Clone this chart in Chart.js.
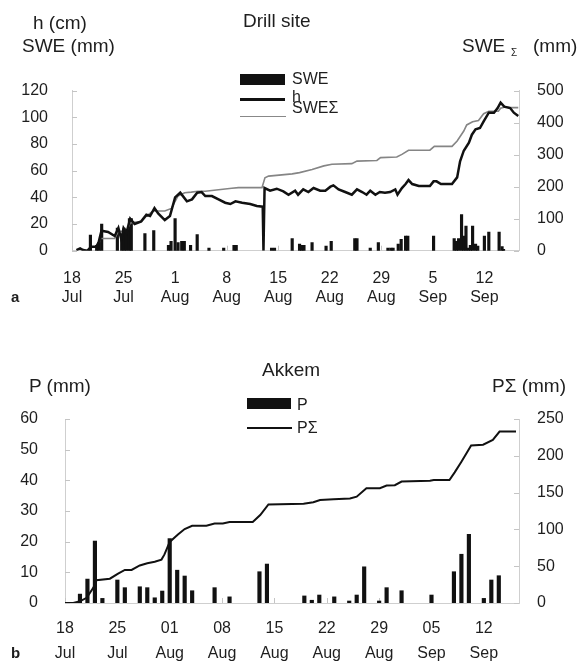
<!DOCTYPE html>
<html>
<head>
<meta charset="utf-8">
<script src="https://cdn.jsdelivr.net/npm/chart.js@4.4.0/dist/chart.umd.min.js"></script>
<style>
  body { margin: 0; background: #fff; }
  #page { position: relative; width: 580px; height: 664px; overflow: hidden;
          font-family: "Liberation Sans", Arial, sans-serif; color: #1e1e1e; }
  canvas { position: absolute; left: 0; }
  .t { position: absolute; font-size: 19px; line-height: 1; white-space: nowrap; }
  .lg { position: absolute; font-size: 16px; line-height: 1; white-space: nowrap; }
  .sw { position: absolute; }
</style>
</head>
<body>
<div id="page">
  <canvas id="drill" width="580" height="330" style="top:0"></canvas>
  <canvas id="akkem" width="580" height="334" style="top:330px"></canvas>

  <div class="t" style="left:33px;top:13px">h (cm)</div>
  <div class="t" style="left:22px;top:35.5px">SWE (mm)</div>
  <div class="t" style="left:243px;top:11px">Drill site</div>
  <div class="t" style="left:462px;top:35.5px">SWE</div>
  <div class="t" style="left:511px;top:48px;font-size:10px">&Sigma;</div>
  <div class="t" style="left:533px;top:35.5px">(mm)</div>
  <div class="t" style="left:11px;top:289px;font-size:15px;font-weight:bold">a</div>

  <div class="sw" style="left:240px;top:73.5px;width:45px;height:11.5px;background:#111"></div>
  <div class="lg" style="left:292px;top:70.5px">SWE</div>
  <div class="sw" style="left:240px;top:98px;width:45px;height:2.5px;background:#111"></div>
  <div class="lg" style="left:292px;top:88.5px">h</div>
  <div class="sw" style="left:240px;top:115.5px;width:46px;height:1.3px;background:#888"></div>
  <div class="lg" style="left:292px;top:99.5px">SWE&Sigma;</div>

  <div class="t" style="left:29px;top:376px">P (mm)</div>
  <div class="t" style="left:262px;top:360px">Akkem</div>
  <div class="t" style="left:492px;top:376px">P&Sigma; (mm)</div>
  <div class="t" style="left:11px;top:645px;font-size:15px;font-weight:bold">b</div>

  <div class="sw" style="left:247px;top:398px;width:44px;height:11px;background:#111"></div>
  <div class="lg" style="left:297px;top:396.5px">P</div>
  <div class="sw" style="left:247px;top:427.3px;width:45px;height:2px;background:#111"></div>
  <div class="lg" style="left:297px;top:419.5px">P&Sigma;</div>
</div>
<script>
// days counted from 18 Jul
const tickDays = [0, 7, 14, 21, 28, 35, 42, 49, 56];
const dayLabelsTop = ['18', '25', '1', '8', '15', '22', '29', '5', '12'];
const dayLabelsBottom = ['18', '25', '01', '08', '15', '22', '29', '05', '12'];
const monthLabels = ['Jul', 'Jul', 'Aug', 'Aug', 'Aug', 'Aug', 'Aug', 'Sep', 'Sep'];

// Drill site: SWE bars (mm)
const sweDays = [2.5, 3.35, 3.67, 4.03, 6.16, 6.75, 7.07, 7.4, 7.8, 8.05,
  9.9, 11.1, 13.1, 13.45, 14.0, 14.4, 14.9, 15.25, 16.1, 17.0,
  18.6, 20.6, 22.0, 22.3, 27.1, 27.5, 29.9, 30.9, 31.2, 31.5,
  32.6, 34.5, 35.2, 38.4, 38.7, 40.5, 41.6, 42.9, 43.3, 43.6,
  44.3, 44.7, 45.3, 45.6, 49.1, 51.9, 52.2, 52.5, 52.9, 53.2,
  53.5, 53.8, 54.1, 54.4, 54.8, 55.1, 56.0, 56.6, 58.0, 58.4, 58.6];
const sweValues = [11.75, 4, 6, 20, 17, 10, 17, 15, 24, 24,
  12.75, 15, 4, 7, 24, 6, 7, 7, 4, 12,
  2, 2, 4, 4, 2, 2, 9, 5, 4, 4,
  6, 3.5, 7, 9, 9, 2, 6, 2, 2, 2,
  5, 8.5, 11, 11, 11, 9, 7, 9, 27, 11,
  18.5, 2, 4, 18.5, 5, 3.5, 11, 14, 14, 3, 1];

// Drill site: snow depth h (cm)
const hDays = [0.6, 1.1, 1.5, 2.1, 2.6, 3.3, 3.6, 4.0, 4.9, 5.8,
  6.3, 6.7, 7.0, 7.4, 7.9, 8.5, 9.4, 10.1, 10.6, 11.2,
  11.7, 12.6, 13.3, 14.0, 14.7, 15.6, 16.3, 17.0, 17.6, 18.1,
  19.0, 19.9, 20.8, 21.5, 22.2, 23.1, 24.2, 25.1, 25.9, 26.0,
  26.15, 26.9, 27.8, 28.7, 29.4, 30.3, 30.7, 31.4, 32.1, 32.8,
  33.7, 34.4, 35.1, 35.5, 36.2, 37.1, 38.0, 38.7, 39.4, 40.0,
  40.5, 41.2, 41.8, 42.5, 43.2, 43.9, 44.2, 44.8, 45.3, 45.7,
  46.2, 47.1, 48.6, 49.1, 49.5, 50.1, 51.6, 52.3, 52.7, 53.2,
  53.9, 54.3, 54.8, 55.4, 55.9, 56.6, 57.3, 57.8, 58.2, 58.7,
  59.5, 60.0, 60.6];
const hValues = [0.5, 1.75, 0.5, 0, 3, 3, 6, 15, 14, 11,
  17, 8.5, 17, 13.5, 24, 20, 22, 27, 26, 32,
  28, 23, 26, 40, 43.5, 37, 38.5, 43.5, 44, 41,
  41, 38.5, 36, 35, 37, 36, 35, 33.5, 33, 0,
  47, 45, 46.5, 44.5, 42, 45, 42, 46, 44, 47,
  45, 45, 48, 49, 46, 44, 42, 46, 44, 42,
  45, 42, 44, 43.5, 44, 46, 42, 47, 50, 53,
  50, 48.5, 48.5, 52, 52, 50, 50, 55, 67, 75,
  81, 87, 91, 92, 97, 103.5, 103.5, 107, 111, 108,
  107, 103.5, 101];

// Drill site: cumulative SWE (mm, right axis)
const sweSumDays = [4.0, 5.8, 6.3, 7.4, 7.9, 9.4, 10.1, 11.0, 12.6, 13.5,
  14.4, 15.3, 16.2, 17.1, 18.1, 21.7, 22.6, 25.8, 26.2, 26.7,
  29.9, 30.9, 32.6, 34.2, 35.3, 38.0, 38.7, 41.4, 41.9, 44.1,
  44.8, 45.7, 48.6, 49.2, 51.6, 52.3, 53.2, 53.6, 54.4, 55.2,
  55.9, 56.6, 57.9, 58.2, 58.8, 59.5, 60.6];
const sweSumValues = [38, 38, 61, 61, 87, 91, 108, 124, 124, 132,
  171, 181, 183, 186, 186, 195, 197, 197, 228, 233,
  240, 244, 254, 265, 270, 272, 280, 282, 291, 293,
  301, 314, 314, 326, 326, 343, 374, 393, 403, 407,
  428, 436, 436, 445, 449, 447, 447];

// Akkem: daily precipitation P (mm)
const pDays = [2, 3, 4, 5, 7, 8, 10, 11, 12, 13,
  14, 15, 16, 17, 20, 22, 26, 27, 32, 33,
  34, 36, 38, 39, 40, 42, 43, 45, 49, 52,
  53, 54, 56, 57, 58];
const pValues = [2.9, 7.8, 20.2, 1.5, 7.5, 5, 5.3, 5, 1.7, 3.9,
  21, 10.7, 8.8, 4, 5, 2, 10.2, 12.7, 2.3, 0.9,
  2.6, 2, 0.65, 2.6, 11.8, 0.65, 5, 4, 2.6, 10.2,
  15.9, 22.4, 1.5, 7.5, 8.9];

// Akkem: cumulative precipitation (mm, right axis)
const pSumDays = [0, 1.1, 1.9, 2.9, 3.8, 4.2, 6.0, 7.1, 8.0, 8.9,
  10.0, 11.0, 12.0, 12.9, 13.3, 14.0, 15.1, 16.0, 17.0, 18.9,
  20.0, 21.1, 22.0, 25.1, 26.1, 27.2, 31.9, 33.2, 34.1, 35.9,
  38.1, 39.0, 40.3, 42.1, 43.0, 44.1, 45.0, 48.8, 49.3, 51.4,
  52.1, 53.0, 54.3, 55.9, 57.2, 58.1, 60.3];
const pSumValues = [0, 0, 2, 7, 21, 31, 33, 40, 45, 45,
  51, 54, 56, 59, 66, 83, 93, 100.5, 105, 105,
  108, 108, 110, 110, 119.5, 134, 135, 137, 140, 141,
  142, 144.5, 156, 156, 159.5, 160, 165, 166, 167, 167,
  177.5, 192, 214, 215, 221.5, 233, 233];

function pts(xs, ys) {
  return xs.map((x, i) => ({ x: x, y: ys[i] }));
}

Chart.defaults.font.family = "'Liberation Sans', Arial, sans-serif";
Chart.defaults.color = '#1e1e1e';

// small tick marks pointing into the plot, like the original
const inwardTicks = {
  id: 'inwardTicks',
  beforeDatasetsDraw(chart) {
    const ctx = chart.ctx, a = chart.chartArea;
    ctx.save();
    ctx.strokeStyle = '#c4c4c4';
    ctx.lineWidth = 1;
    Object.values(chart.scales).forEach(s => {
      s.ticks.forEach(t => {
        const p = Math.round(s.getPixelForValue(t.value)) + 0.5;
        ctx.beginPath();
        if (s.axis === 'x') { ctx.moveTo(p, a.bottom); ctx.lineTo(p, a.bottom - 5); }
        else if (s.position === 'left') { ctx.moveTo(a.left, p); ctx.lineTo(a.left + 5, p); }
        else { ctx.moveTo(a.right, p); ctx.lineTo(a.right - 5, p); }
        ctx.stroke();
      });
    });
    ctx.restore();
  }
};

function xAxis(dayLabels, h, pad, lh) {
  return {
    type: 'linear', min: 0, max: 60.7, offset: false,
    afterBuildTicks: s => { s.ticks = tickDays.map(v => ({ value: v })); },
    afterFit: s => { s.height = h; },
    grid: { display: false, drawTicks: false, offset: false },
    border: { color: '#cfcfcf' },
    ticks: {
      autoSkip: false, maxRotation: 0, padding: pad,
      font: { size: 16, lineHeight: lh },
      callback: (v, i) => [dayLabels[i], monthLabels[i]]
    }
  };
}

function yAxis(pos, max, step, w, pad) {
  return {
    type: 'linear', position: pos, min: 0, max: max,
    afterFit: s => { s.width = w; },
    grid: { display: false, drawTicks: false },
    border: { color: '#cfcfcf' },
    ticks: { stepSize: step, padding: pad, font: { size: 16 } }
  };
}

new Chart(document.getElementById('drill'), {
  type: 'bar',
  data: {
    datasets: [
      { type: 'line', label: 'h', data: pts(hDays, hValues), yAxisID: 'y',
        borderColor: '#111', borderWidth: 2.5, pointRadius: 0, tension: 0, order: 0 },
      { type: 'line', label: 'SWEΣ', data: pts(sweSumDays, sweSumValues), yAxisID: 'y1',
        borderColor: '#858585', borderWidth: 1.6, pointRadius: 0, tension: 0, order: 1 },
      { type: 'bar', label: 'SWE', data: pts(sweDays, sweValues), yAxisID: 'y',
        backgroundColor: '#111', barThickness: 2.5, order: 2 }
    ]
  },
  plugins: [inwardTicks],
  options: {
    responsive: false, animation: false, events: [],
    layout: { padding: { top: 90.7, left: 0, right: 0, bottom: 0 } },
    plugins: { legend: { display: false }, tooltip: { enabled: false } },
    scales: {
      x: xAxis(dayLabelsTop, 79.3, 19, 1.15),
      y: yAxis('left', 120, 20, 72, 24),
      y1: yAxis('right', 500, 100, 61, 18)
    }
  }
});

new Chart(document.getElementById('akkem'), {
  type: 'bar',
  data: {
    datasets: [
      { type: 'line', label: 'PΣ', data: pts(pSumDays, pSumValues), yAxisID: 'y1',
        borderColor: '#111', borderWidth: 2, pointRadius: 0, tension: 0, order: 0 },
      { type: 'bar', label: 'P', data: pts(pDays, pValues), yAxisID: 'y',
        backgroundColor: '#111', barThickness: 3.5, order: 1 }
    ]
  },
  plugins: [inwardTicks],
  options: {
    responsive: false, animation: false, events: [],
    layout: { padding: { top: 89, left: 0, right: 0, bottom: 0 } },
    plugins: { legend: { display: false }, tooltip: { enabled: false } },
    scales: {
      x: xAxis(dayLabelsBottom, 61, 13.5, 1.56),
      y: yAxis('left', 60, 10, 65, 27),
      y1: yAxis('right', 250, 50, 61, 18)
    }
  }
});
</script>
</body>
</html>
